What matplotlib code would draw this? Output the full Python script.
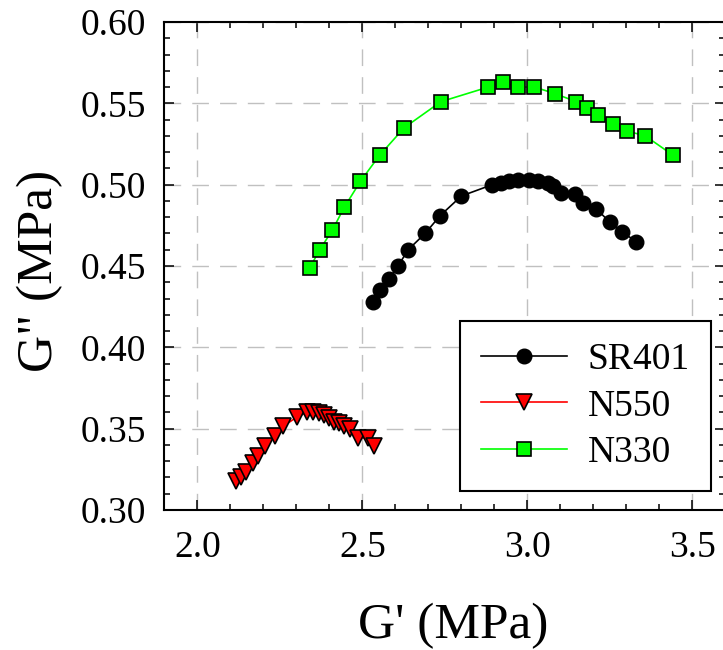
import matplotlib
matplotlib.use("Agg")
import matplotlib.pyplot as plt
from matplotlib.ticker import MultipleLocator

# G' (MPa) and G" (MPa)
sr401_g1 = [2.533, 2.553, 2.581, 2.608, 2.639, 2.690, 2.736, 2.800, 2.894, 2.919, 2.945, 2.973,
            3.005, 3.033, 3.061, 3.078, 3.101, 3.145, 3.170, 3.209, 3.250, 3.286, 3.330]
sr401_g2 = [0.428, 0.435, 0.442, 0.450, 0.460, 0.470, 0.481, 0.493, 0.500, 0.501, 0.502, 0.503,
            0.503, 0.502, 0.501, 0.499, 0.495, 0.4945, 0.489, 0.485, 0.477, 0.471, 0.465]

n550_g1 = [2.118, 2.133, 2.148, 2.170, 2.183, 2.204, 2.235, 2.260, 2.301, 2.331, 2.351, 2.368,
           2.384, 2.399, 2.414, 2.430, 2.445, 2.462, 2.487, 2.517, 2.535]
n550_g2 = [0.3177, 0.3205, 0.3235, 0.329, 0.333, 0.3395, 0.3453, 0.3515, 0.357, 0.360, 0.360, 0.3598,
           0.3584, 0.3564, 0.3543, 0.3533, 0.3516, 0.350, 0.3445, 0.3441, 0.3394]

n330_g1 = [2.341, 2.371, 2.409, 2.445, 2.494, 2.552, 2.627, 2.738, 2.882, 2.925, 2.973, 3.021,
           3.083, 3.148, 3.180, 3.215, 3.260, 3.301, 3.357, 3.442]
n330_g2 = [0.449, 0.460, 0.472, 0.486, 0.502, 0.518, 0.535, 0.551, 0.560, 0.563, 0.560, 0.560,
           0.556, 0.551, 0.547, 0.543, 0.5375, 0.533, 0.530, 0.518]

labels = ["SR401", "N550", "N330"]

plt.rcParams['font.family'] = ['Liberation Serif', 'DejaVu Serif']

fig = plt.figure(figsize=(7.23, 6.5), dpi=100)
ax = fig.add_axes([0.2273, 0.2154, 0.776, 0.7508])

ax.plot(sr401_g1, sr401_g2, color="black", lw=1.2, marker="o", ms=10.5,
        mfc="black", mec="black", mew=1.0, label=labels[0])
ax.plot(n550_g1, n550_g2, color="#ff0000", lw=1.2, marker="v", ms=11,
        mfc="#ff0000", mec="black", mew=1.2, label=labels[1])
ax.plot(n330_g1, n330_g2, color="#00ff00", lw=1.2, marker="s", ms=10,
        mfc="#00ff00", mec="black", mew=1.2, label=labels[2])

ax.set_xlim(1.9, 3.6)
ax.set_ylim(0.30, 0.60)
ax.xaxis.set_major_locator(MultipleLocator(0.5))
ax.xaxis.set_minor_locator(MultipleLocator(0.1))
ax.yaxis.set_major_locator(MultipleLocator(0.05))
ax.yaxis.set_minor_locator(MultipleLocator(0.01))
ax.xaxis.set_major_formatter(plt.FormatStrFormatter('%.1f'))
ax.yaxis.set_major_formatter(plt.FormatStrFormatter('%.2f'))

ax.grid(True, which="major", color="#c0c0c0", lw=1.0, linestyle=(0, (12, 8)))
ax.set_axisbelow(True)

ax.tick_params(which="both", direction="in", top=True, right=True, width=1.1, labelsize=27)
ax.tick_params(which="major", length=7.2)
ax.tick_params(which="minor", length=4.3)
ax.tick_params(axis="y", pad=13)
ax.tick_params(axis="x", pad=15)
for s in ax.spines.values():
	s.set_linewidth(1.5)

ax.set_xlabel("G' (MPa)", fontsize=37)
ax.set_ylabel('G" (MPa)', fontsize=37)
ax.xaxis.set_label_coords(0.515, -0.19)
ax.yaxis.set_label_coords(-0.18, 0.49)

leg = ax.legend(loc="upper left", bbox_to_anchor=(0.527, 0.387), borderaxespad=0,
                fontsize=27, handlelength=2.3, handletextpad=0.55, labelspacing=0.33,
                borderpad=0.56, fancybox=False, framealpha=1, edgecolor="black")
leg.get_frame().set_linewidth(1.5)

fig.savefig("out.png", dpi=100)
